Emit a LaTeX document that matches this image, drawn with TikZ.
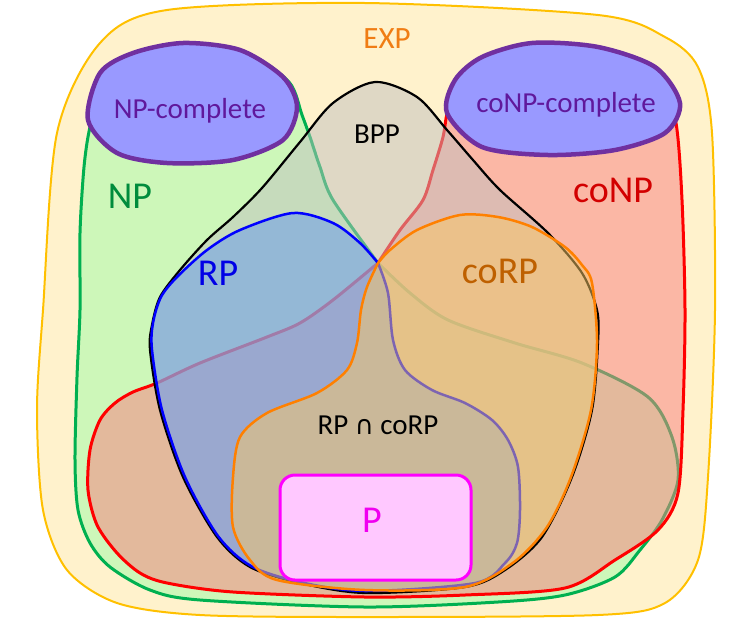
\documentclass[tikz,border=0pt]{standalone}
\usepackage{fontspec}
\setmainfont{Carlito}
\newfontfamily\symfont{DejaVu Sans}
\usepackage{tikz}
\definecolor{expfill}{RGB}{255,242,204}
\definecolor{expline}{RGB}{255,192,0}
\definecolor{exptext}{RGB}{240,125,20}
\definecolor{npfill}{RGB}{205,247,185}
\definecolor{npline}{RGB}{0,176,80}
\definecolor{nptext}{RGB}{0,140,60}
\definecolor{conpfill}{RGB}{248,130,130}
\definecolor{conptext}{RGB}{210,0,0}
\definecolor{bppfill}{RGB}{192,192,192}
\definecolor{rpfill}{RGB}{100,150,240}
\definecolor{rptext}{RGB}{0,0,230}
\definecolor{corpfill}{RGB}{250,200,100}
\definecolor{corpline}{RGB}{255,128,0}
\definecolor{corptext}{RGB}{190,96,0}
\definecolor{pfill}{RGB}{255,200,255}
\definecolor{pline}{RGB}{255,0,255}
\definecolor{ptext}{RGB}{240,0,240}
\definecolor{compfill}{RGB}{153,153,255}
\definecolor{compline}{RGB}{112,48,160}
\definecolor{comptext}{RGB}{96,24,156}

\begin{document}
\begin{tikzpicture}[x=1pt, y=-1pt, line join=round,
	every node/.style={anchor=base, inner sep=0pt},
	big/.style={font=\fontsize{38}{40}\selectfont},
	mid/.style={font=\fontsize{29}{32}\selectfont},
	region/.style={line width=2.5}]
	\useasboundingbox (0,0) rectangle (730,619);
	\filldraw[fill=expfill, draw=expline, line width=2] plot[smooth cycle] coordinates {(167,10) (365,3) (598,15) (665,37) (698,67) (712,133) (715,310) (708,477) (698,560) (665,603) (598,615) (365,617) (200,615) (117,603) (67,570) (43,510) (37,410) (43,310) (57,133) (100,43)};
	\filldraw[region, fill=npfill, draw=npline, line width=3] plot[smooth] coordinates {(378,263) (410,293) (448,320) (515,343) (582,363) (648,397) (672,437) (678,480) (662,520) (640,550) (615,577) (565,595) (498,602) (365,607) (200,600) (150,590) (110,567) (90,543) (78,510) (75,460) (77,377) (80,310) (80,233) (84,167) (90,127) (102,90) (140,62) (200,52) (248,54) (289,82) (302,115) (310,137) (320,167) (333,200) (378,263)} -- cycle;
	\filldraw[region, fill=conpfill, fill opacity=0.52, draw=red, line width=3] plot[smooth] coordinates {(378,263) (400,230) (423,200) (433,170) (443,137) (448,110) (462,80) (500,62) (560,57) (620,62) (662,88) (676,123) (682,200) (685,310) (683,410) (678,493) (658,530) (615,560) (565,588) (465,595) (365,597) (233,592) (167,583) (140,573) (117,553) (97,525) (88,490) (90,450) (100,420) (115,403) (133,392) (157,383) (200,363) (267,337) (300,323) (333,300) (378,263)} -- cycle;
	\filldraw[region, fill=bppfill, fill opacity=0.5, draw=black, line width=2.2] plot[smooth cycle] coordinates {(375,82) (417,97) (447,130) (473,160) (500,190) (548,233) (582,273) (597,310) (598,343) (592,410) (572,477) (542,537) (505,570) (465,587) (365,593) (300,583) (250,567) (217,537) (183,477) (160,410) (150,350) (152,325) (160,297) (180,270) (207,240) (233,217) (262,188) (300,142) (333,103)};
	\filldraw[region, fill=rpfill, fill opacity=0.5, draw=blue] plot[smooth] coordinates {(378,263) (388,293) (393,340) (405,370) (432,390) (465,403) (492,420) (508,440) (518,467) (520,510) (517,543) (505,563) (475,583) (365,591) (300,582) (251,566) (218,536) (185,477) (162,410) (152,350) (153,323) (161,297) (177,277) (207,250) (240,230) (293,213) (333,223) (360,243) (378,263)} -- cycle;
	\filldraw[region, fill=corpfill, fill opacity=0.5, draw=corpline] plot[smooth] coordinates {(378,263) (390,250) (417,230) (460,215) (498,217) (532,227) (565,247) (582,265) (592,283) (597,343) (591,410) (571,477) (547,527) (514,562) (465,587) (365,590) (277,580) (250,560) (233,527) (233,477) (240,437) (267,413) (317,393) (347,370) (357,343) (361,310) (367,287) (378,263)} -- cycle;
	\filldraw[fill=pfill, draw=pline, line width=3, rounded corners=15] (280,475) rectangle (471,580);
	\filldraw[fill=compfill, draw=compline, line width=4.5] plot[smooth cycle] coordinates {(88,120) (100,73) (133,53) (183,43) (240,50) (283,77) (297,107) (283,140) (233,160) (167,163) (117,153)};
	\filldraw[fill=compfill, draw=compline, line width=4.5] plot[smooth cycle] coordinates {(447,113) (455,80) (482,57) (532,43) (598,47) (655,67) (680,103) (665,133) (615,150) (548,155) (482,147)};
	\node[font=\fontsize{31}{34}\selectfont, text=exptext] (exp)at(387,48) {EXP};
	\node[big, text=nptext] (np)at(130,208) {NP};
	\node[big, text=conptext] (conp)at(613,202) {coNP};
	\node[mid] (bpp)at(377,143) {BPP};
	\node[big, text=rptext] (rp)at(218,285) {RP};
	\node[big, text=corptext] (corp)at(500,283) {coRP};
	\node[mid] (rpcorp)at(378,434) {RP {\symfont\fontsize{26}{30}\selectfont ∩} coRP};
	\node[big, text=ptext] (p)at(372,532) {P};
	\node[mid, text=comptext] (npc)at(190,118) {NP-complete};
	\node[mid, text=comptext] (conpc)at(566,112) {coNP-complete};
\end{tikzpicture}
\end{document}
